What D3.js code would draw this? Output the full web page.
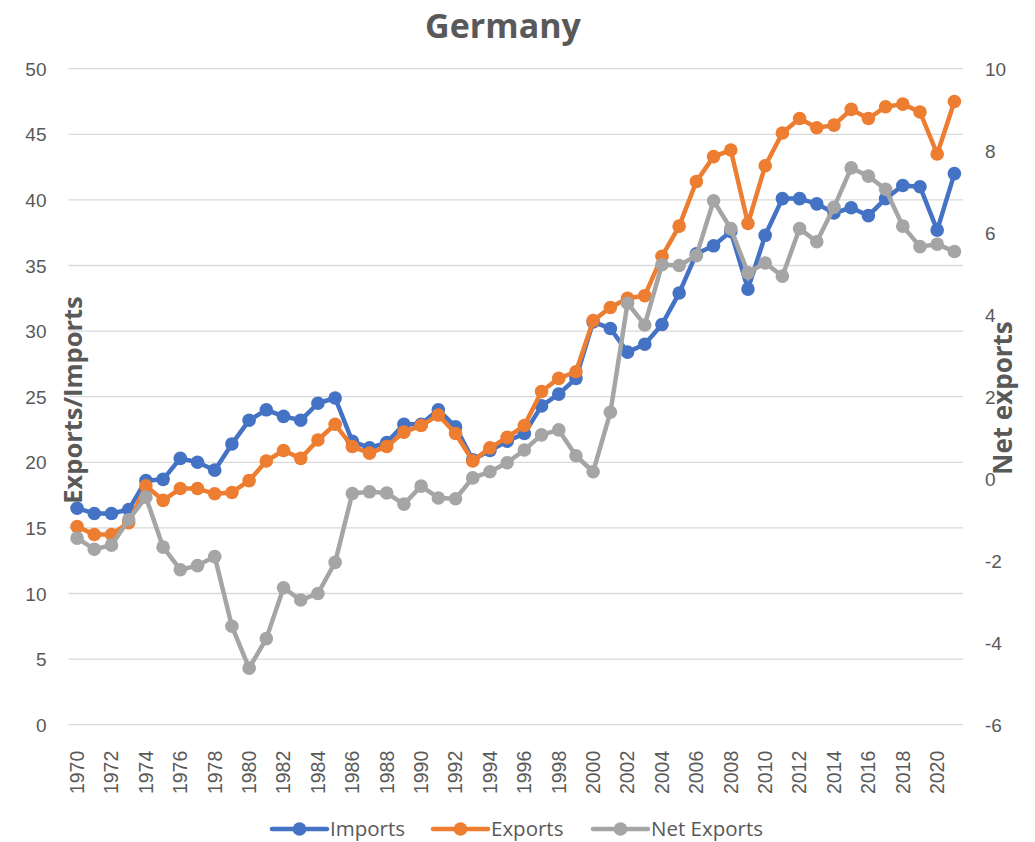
<!DOCTYPE html>
<html>
<head>
<meta charset="utf-8">
<script src="https://cdn.jsdelivr.net/npm/d3@7/dist/d3.min.js"></script>
<style>
  html, body { margin: 0; padding: 0; background: #fff; }
  svg { display: block; font-family: "Open Sans", "Noto Sans", sans-serif; }
</style>
</head>
<body>
<svg id="chart" width="1035" height="842"></svg>
<script>
const years = d3.range(1970, 2022);
const imports = [16.5,16.1,16.1,16.4,18.6,18.7,20.3,20.0,19.4,21.4,23.2,24.0,23.5,23.2,24.5,24.9,21.6,21.1,21.5,22.9,22.9,24.0,22.7,20.2,20.9,21.6,22.2,24.3,25.2,26.4,30.7,30.2,28.4,29.0,30.5,32.9,35.9,36.5,37.6,33.2,37.3,40.1,40.1,39.7,39.0,39.4,38.8,40.1,41.1,41.0,37.7,42.0];
const exports_ = [15.1,14.5,14.5,15.4,18.2,17.1,18.0,18.0,17.6,17.7,18.6,20.1,20.9,20.3,21.7,22.9,21.2,20.7,21.2,22.3,22.8,23.6,22.2,20.1,21.1,21.9,22.8,25.4,26.4,26.9,30.8,31.8,32.5,32.7,35.7,38.0,41.4,43.3,43.8,38.2,42.6,45.1,46.2,45.5,45.7,46.9,46.2,47.1,47.3,46.7,43.5,47.5];
const netExports = [-1.45,-1.72,-1.62,-1.0,-0.45,-1.67,-2.22,-2.12,-1.9,-3.6,-4.62,-3.9,-2.66,-2.96,-2.8,-2.04,-0.36,-0.32,-0.35,-0.62,-0.18,-0.47,-0.49,0.02,0.17,0.39,0.70,1.07,1.19,0.56,0.17,1.62,4.28,3.75,5.22,5.2,5.44,6.78,6.1,5.02,5.26,4.94,6.1,5.78,6.62,7.58,7.38,7.06,6.16,5.66,5.72,5.54];
const leftTicks = d3.range(0, 51, 5);
const rightTicks = d3.range(-6, 11, 2);
const yearTicks = years.filter(y => (y - 1970) % 2 === 0);
const seriesNames = ["Imports", "Exports", "Net Exports"];
const seriesColors = ["#4472C4", "#ED7D31", "#A5A5A5"];

const svg = d3.select("#chart");
const textColor = "#595959";
const plot = { left: 68.5, right: 963, top: 68.7, bottom: 724.7 };

const x = d3.scaleBand().domain(years).range([plot.left, plot.right]).paddingInner(0).paddingOuter(0);
const xc = d => x(d) + x.bandwidth() / 2;
const yL = d3.scaleLinear().domain([0, 50]).range([plot.bottom, plot.top]);
const yR = d3.scaleLinear().domain([-6, 10]).range([plot.bottom, plot.top]);

// gridlines
svg.append("g").selectAll("line").data(leftTicks).join("line")
  .attr("x1", plot.left).attr("x2", plot.right)
  .attr("y1", d => yL(d)).attr("y2", d => yL(d))
  .attr("stroke", "#D9D9D9").attr("stroke-width", 1.3);

// left axis
const gL = svg.append("g").attr("transform", `translate(${plot.left - 22},0)`)
  .call(d3.axisLeft(yL).tickValues(leftTicks).tickFormat(d => String(d)).tickSize(0).tickPadding(0));
gL.select(".domain").remove();
gL.selectAll("text").attr("fill", textColor).style("font-size", "19px").attr("dy", "0.35em");

// right axis
const gR = svg.append("g").attr("transform", `translate(${plot.right + 22},0)`)
  .call(d3.axisRight(yR).tickValues(rightTicks).tickFormat(d => String(d)).tickSize(0).tickPadding(0));
gR.select(".domain").remove();
gR.selectAll("text").attr("fill", textColor).style("font-size", "19px").attr("dy", "0.35em");

// bottom axis
const gB = svg.append("g").attr("transform", `translate(0,${plot.bottom})`)
  .call(d3.axisBottom(x).tickValues(yearTicks).tickFormat(d => String(d)).tickSize(0).tickPadding(0));
gB.select(".domain").remove();
gB.selectAll("text")
  .attr("fill", textColor).style("font-size", "19.5px")
  .attr("text-anchor", "end")
  .attr("transform", "rotate(-90)")
  .attr("x", -26).attr("y", 0).attr("dy", "0.35em");

// series
const data = [
  { name: seriesNames[0], values: imports, y: yL, color: seriesColors[0] },
  { name: seriesNames[1], values: exports_, y: yL, color: seriesColors[1] },
  { name: seriesNames[2], values: netExports, y: yR, color: seriesColors[2] }
];
data.forEach(s => {
  const line = d3.line().x((d, i) => xc(years[i])).y(d => s.y(d));
  const g = svg.append("g");
  g.append("path").datum(s.values).attr("d", line)
    .attr("fill", "none").attr("stroke", s.color).attr("stroke-width", 4.5)
    .attr("stroke-linejoin", "round").attr("stroke-linecap", "round");
  g.selectAll("circle").data(s.values).join("circle")
    .attr("cx", (d, i) => xc(years[i])).attr("cy", d => s.y(d))
    .attr("r", 6.8).attr("fill", s.color);
});

// title
svg.append("text").attr("x", 503).attr("y", 38).attr("text-anchor", "middle")
  .attr("fill", textColor).style("font-size", "34px").style("font-weight", "bold").text("Germany");

// axis titles
svg.append("text").attr("transform", "translate(82,400) rotate(-90)").attr("text-anchor", "middle")
  .attr("fill", textColor).style("font-size", "25.5px").style("font-weight", "bold").text("Exports/Imports");
svg.append("text").attr("transform", "translate(1012,398) rotate(-90)").attr("text-anchor", "middle")
  .attr("fill", textColor).style("font-size", "26px").style("font-weight", "bold").text("Net exports");

// legend
const legendX = [272, 433, 593];
const leg = svg.append("g");
data.forEach((s, i) => {
  const g = leg.append("g").attr("transform", `translate(${legendX[i]},829)`);
  g.append("line").attr("x1", 0).attr("x2", 55).attr("y1", 0).attr("y2", 0)
    .attr("stroke", s.color).attr("stroke-width", 4.5).attr("stroke-linecap", "round");
  g.append("circle").attr("cx", 27.5).attr("cy", 0).attr("r", 6.8).attr("fill", s.color);
  g.append("text").attr("x", 58).attr("y", 0).attr("dy", "0.35em")
    .attr("fill", textColor).style("font-size", "20.5px").text(s.name);
});
</script>
</body>
</html>
